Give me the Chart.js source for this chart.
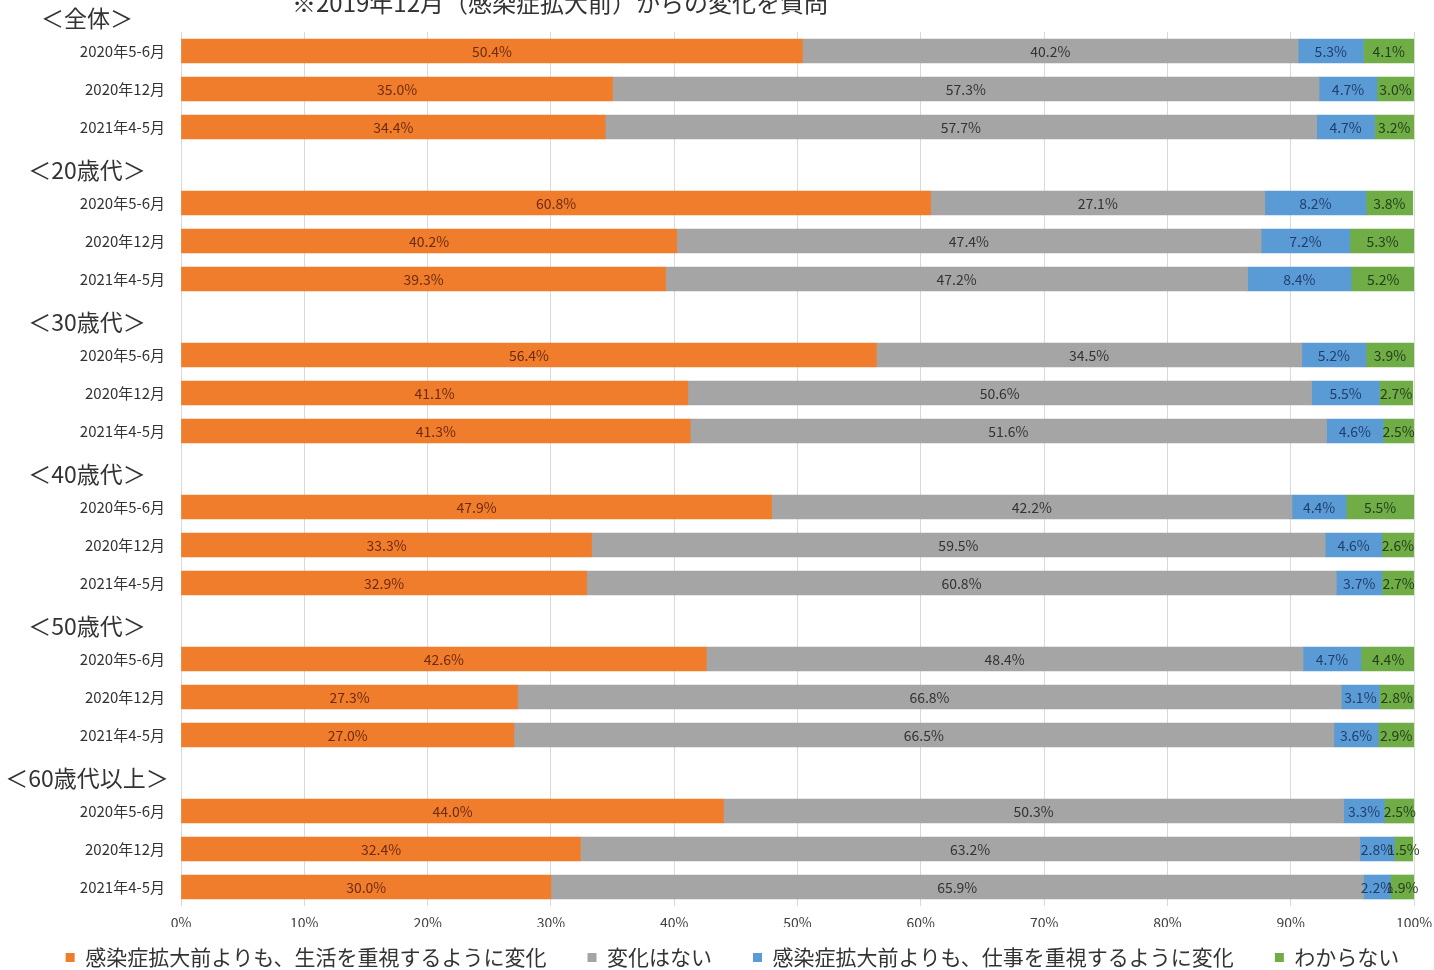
<!DOCTYPE html>
<html>
<head>
<meta charset="utf-8">
<script src="https://cdn.jsdelivr.net/npm/chart.js@4.4.0/dist/chart.umd.min.js"></script>
<style>
  body { margin: 0; background: #fff; }
  #wrap { position: relative; width: 1434px; height: 970px; }
</style>
</head>
<body>
<div id="wrap"><canvas id="myChart" width="1434" height="970"></canvas></div>
<script>
const groups = ['＜全体＞', '＜20歳代＞', '＜30歳代＞', '＜40歳代＞', '＜50歳代＞', '＜60歳代以上＞'];
const periods = ['2020年5-6月', '2020年12月', '2021年4-5月'];
const seriesNames = ['感染症拡大前よりも、生活を重視するように変化', '変化はない', '感染症拡大前よりも、仕事を重視するように変化', 'わからない'];
const colors = ['#F07D2C', '#A5A5A5', '#5B9BD5', '#70AD47'];
const labelColors = ['#6e2a12', '#333333', '#1f3f6e', '#23401a'];

// one row per group, three periods each
const lifeFirst = [
    [50.4, 35.0, 34.4],
    [60.8, 40.2, 39.3],
    [56.4, 41.1, 41.3],
    [47.9, 33.3, 32.9],
    [42.6, 27.3, 27.0],
    [44.0, 32.4, 30.0]
];
const noChange = [
    [40.2, 57.3, 57.7],
    [27.1, 47.4, 47.2],
    [34.5, 50.6, 51.6],
    [42.2, 59.5, 60.8],
    [48.4, 66.8, 66.5],
    [50.3, 63.2, 65.9]
];
const workFirst = [
    [5.3, 4.7, 4.7],
    [8.2, 7.2, 8.4],
    [5.2, 5.5, 4.6],
    [4.4, 4.6, 3.7],
    [4.7, 3.1, 3.6],
    [3.3, 2.8, 2.2]
];
const unknown = [
    [4.1, 3.0, 3.2],
    [3.8, 5.3, 5.2],
    [3.9, 2.7, 2.5],
    [5.5, 2.6, 2.7],
    [4.4, 2.8, 2.9],
    [2.5, 1.5, 1.9]
];
const xTicks = [0, 10, 20, 30, 40, 50, 60, 70, 80, 90, 100];

// flatten: a blank slot before every group except the first (header goes there)
const labels = [];
const groupStart = [];
groups.forEach((g, gi) => {
    if (gi > 0) labels.push('');
    groupStart.push(labels.length);
    periods.forEach(p => labels.push(p));
});
function flat(arr) {
    const out = [];
    arr.forEach((vals, gi) => {
        if (gi > 0) out.push(null);
        vals.forEach(v => out.push(v));
    });
    return out;
}
const allSeries = [lifeFirst, noChange, workFirst, unknown];

const datasets = allSeries.map((s, i) => ({
    label: seriesNames[i],
    data: flat(s),
    backgroundColor: colors[i],
    borderWidth: 0,
    barThickness: 24
}));

const jpFont = '"Noto Sans CJK JP", "Noto Sans", sans-serif';

const extras = {
    id: 'extras',
    beforeInit(chart) {
        const lg = chart.legend;
        // squeeze the legend box so the plot keeps its height
        const fit = lg.fit;
        lg.fit = function () {
            fit.call(this);
            this.height = 43;
        };
        // nudge legend a bit to the right like the original
        const draw = lg.draw;
        lg.draw = function () {
            const ctx = this.ctx;
            ctx.save();
            ctx.translate(36, 0);
            draw.call(this);
            ctx.restore();
        };
    },
    afterDatasetsDraw(chart) {
        const ctx = chart.ctx;
        ctx.save();
        // segment labels
        ctx.font = '14px ' + jpFont;
        ctx.textAlign = 'center';
        ctx.textBaseline = 'middle';
        chart.data.datasets.forEach((ds, di) => {
            const meta = chart.getDatasetMeta(di);
            meta.data.forEach((el, i) => {
                const v = ds.data[i];
                if (v == null) return;
                ctx.fillStyle = labelColors[di];
                ctx.fillText(v.toFixed(1) + '%', (el.x + el.base) / 2, el.y + 1);
            });
        });
        // group headers
        const y = chart.scales.y;
        ctx.font = '23px ' + jpFont;
        ctx.fillStyle = '#333';
        groups.forEach((g, gi) => {
            ctx.fillText(g, 87, y.getPixelForValue(groupStart[gi]) - 33);
        });
        // title, cut off at the top
        ctx.font = '24px ' + jpFont;
        ctx.fillText('※2019年12月（感染症拡大前）からの変化を質問', 560, 3);
        ctx.restore();
    }
};

new Chart(document.getElementById('myChart'), {
    type: 'bar',
    data: { labels: labels, datasets: datasets },
    options: {
        indexAxis: 'y',
        responsive: false,
        animation: false,
        layout: { padding: { top: 32, right: 20, left: 0, bottom: 0 } },
        scales: {
            x: {
                stacked: true,
                min: 0,
                max: 100,
                afterBuildTicks(scale) { scale.ticks = xTicks.map(v => ({ value: v })); },
                afterFit(scale) {
                    scale.height = 21;
                    scale.paddingLeft = 0;
                    scale.paddingRight = 0;
                },
                grid: { color: '#d9d9d9', drawTicks: false },
                border: { display: false },
                ticks: {
                    padding: 8,
                    color: '#404040',
                    font: { size: 14, family: jpFont },
                    callback: v => v + '%'
                }
            },
            y: {
                stacked: true,
                afterFit(scale) { scale.width = 181; },
                grid: { display: false },
                border: { display: false },
                ticks: {
                    padding: 8,
                    color: '#333',
                    font: { size: 15, family: jpFont }
                }
            }
        },
        plugins: {
            legend: {
                position: 'bottom',
                labels: {
                    boxWidth: 9,
                    boxHeight: 9,
                    padding: 20,
                    color: '#333',
                    font: { size: 21, family: jpFont },
                    generateLabels(chart) {
                        // trailing full-width space widens the gap between items
                        const items = Chart.defaults.plugins.legend.labels.generateLabels(chart);
                        items.forEach(it => { it.text = it.text + '　'; });
                        return items;
                    }
                }
            },
            tooltip: { enabled: false }
        }
    },
    plugins: [extras]
});
</script>
</body>
</html>
